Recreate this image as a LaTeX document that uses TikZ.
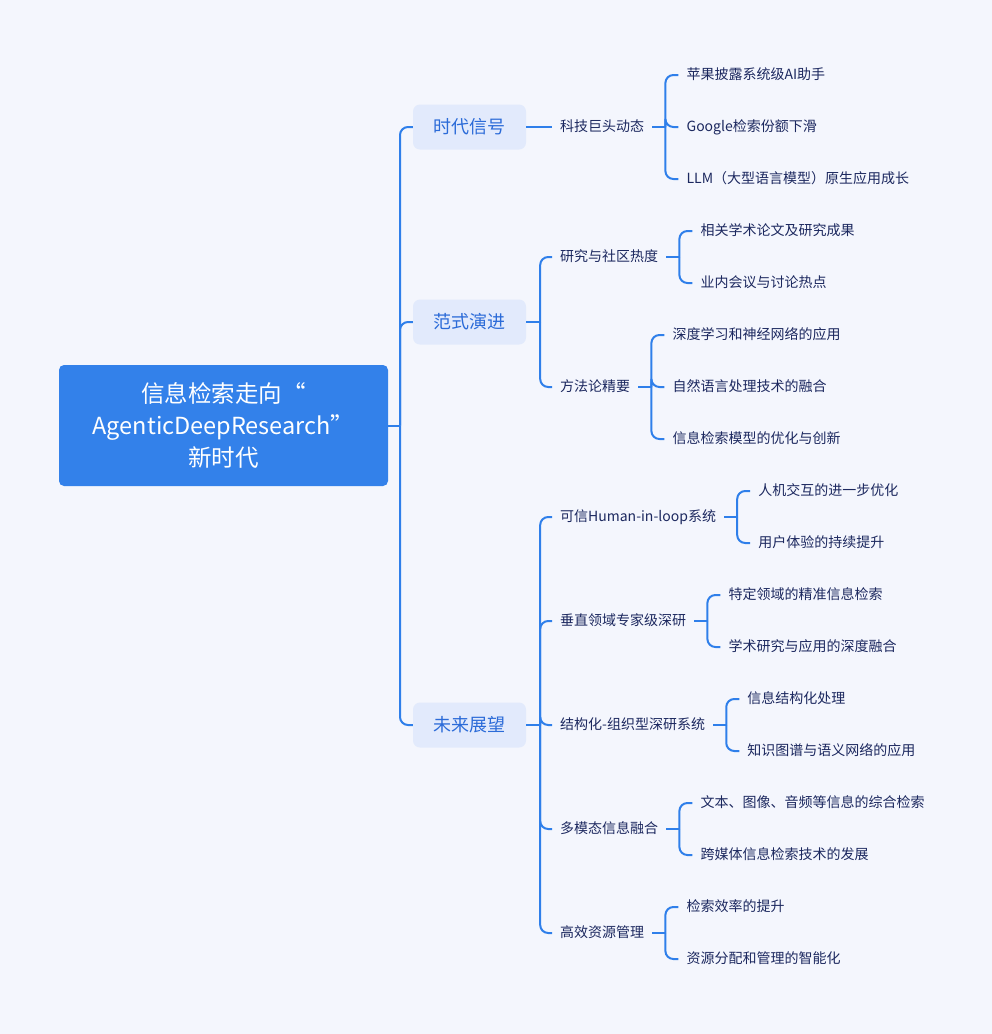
\documentclass[tikz,border=0pt]{standalone}
\usepackage{fontspec}
\newfontfamily\cjk{Noto Sans CJK SC}
\definecolor{bgc}{HTML}{F4F6FD}
\definecolor{linec}{HTML}{2F7FEA}
\definecolor{rootc}{HTML}{3381EA}
\definecolor{topicc}{HTML}{E2EAFC}
\definecolor{topictxt}{HTML}{2B6BD8}
\definecolor{darktxt}{HTML}{1C285F}
\begin{document}
\begin{tikzpicture}[x=1pt,y=-1pt,
  link/.style={draw=linec,line width=2pt,rounded corners=8pt},
  rootbox/.style={fill=rootc,rounded corners=5pt,minimum width=329pt,minimum height=121pt,text=white,align=center,font={\cjk\fontsize{23.5}{32}\selectfont}},
  topic/.style={fill=topicc,rounded corners=7pt,minimum width=113pt,minimum height=45pt,text=topictxt,font={\cjk\fontsize{18}{20}\selectfont}},
  sub/.style={anchor=west,inner xsep=8pt,inner ysep=0pt,text height=11.5pt,text depth=2.5pt,text=darktxt,font={\cjk\fontsize{14}{16}\selectfont}},
  leaf/.style={sub}]
\fill[bgc] (0,0) rectangle (992,1034);
\node[rootbox] (root) at (223.5,425.5) {信息检索走向“\\AgenticDeepResearch”\\新时代};
\node[topic] (sig) at (469.5,127) {时代信号};
\node[topic] (par) at (469.5,322) {范式演进};
\node[topic] (fut) at (469.5,725) {未来展望};
\coordinate (trunk) at (400,425.5);
\draw[link] (root.east) -- (trunk);
\foreach \t in {sig,par,fut}
  \draw[link] (trunk) |- (\t.west);
% level 2
\node[sub] (kj) at (552,127) {科技巨头动态};
\node[sub] (rs) at (552,257) {研究与社区热度};
\node[sub] (ff) at (552,387) {方法论精要};
\node[sub] (kx) at (552,517) {可信Human-in-loop系统};
\node[sub] (cz) at (552,621) {垂直领域专家级深研};
\node[sub] (jg) at (552,725) {结构化-组织型深研系统};
\node[sub] (dm) at (552,829) {多模态信息融合};
\node[sub] (gx) at (552,933) {高效资源管理};
\draw[link] (sig.east) -- (kj.west);
\draw[link] (par.east) -- ++(14,0) coordinate (bpar);
\foreach \t in {rs,ff}
  \draw[link] (bpar) |- (\t.west);
\draw[link] (fut.east) -- ++(14,0) coordinate (bfut);
\foreach \t in {kx,cz,jg,dm,gx}
  \draw[link] (bfut) |- (\t.west);
% level 3
\draw[link] (kj.east) -- ++(13,0) coordinate (bkj);
\node[leaf] (kj1) at ([shift={(13,-52)}]bkj) {苹果披露系统级AI助手};
\node[leaf] (kj2) at ([shift={(13,0)}]bkj) {Google检索份额下滑};
\node[leaf] (kj3) at ([shift={(13,52)}]bkj) {LLM（大型语言模型）原生应用成长};
\draw[link] (rs.east) -- ++(13,0) coordinate (brs);
\node[leaf] (rs1) at ([shift={(13,-26)}]brs) {相关学术论文及研究成果};
\node[leaf] (rs2) at ([shift={(13,26)}]brs) {业内会议与讨论热点};
\draw[link] (ff.east) -- ++(13,0) coordinate (bff);
\node[leaf] (ff1) at ([shift={(13,-52)}]bff) {深度学习和神经网络的应用};
\node[leaf] (ff2) at ([shift={(13,0)}]bff) {自然语言处理技术的融合};
\node[leaf] (ff3) at ([shift={(13,52)}]bff) {信息检索模型的优化与创新};
\draw[link] (kx.east) -- ++(13,0) coordinate (bkx);
\node[leaf] (kx1) at ([shift={(13,-26)}]bkx) {人机交互的进一步优化};
\node[leaf] (kx2) at ([shift={(13,26)}]bkx) {用户体验的持续提升};
\draw[link] (cz.east) -- ++(13,0) coordinate (bcz);
\node[leaf] (cz1) at ([shift={(13,-26)}]bcz) {特定领域的精准信息检索};
\node[leaf] (cz2) at ([shift={(13,26)}]bcz) {学术研究与应用的深度融合};
\draw[link] (jg.east) -- ++(13,0) coordinate (bjg);
\node[leaf] (jg1) at ([shift={(13,-26)}]bjg) {信息结构化处理};
\node[leaf] (jg2) at ([shift={(13,26)}]bjg) {知识图谱与语义网络的应用};
\draw[link] (dm.east) -- ++(13,0) coordinate (bdm);
\node[leaf] (dm1) at ([shift={(13,-26)}]bdm) {文本、图像、音频等信息的综合检索};
\node[leaf] (dm2) at ([shift={(13,26)}]bdm) {跨媒体信息检索技术的发展};
\draw[link] (gx.east) -- ++(13,0) coordinate (bgx);
\node[leaf] (gx1) at ([shift={(13,-26)}]bgx) {检索效率的提升};
\node[leaf] (gx2) at ([shift={(13,26)}]bgx) {资源分配和管理的智能化};
\foreach \p/\c in {kj/kj1,kj/kj2,kj/kj3,rs/rs1,rs/rs2,ff/ff1,ff/ff2,ff/ff3,kx/kx1,kx/kx2,cz/cz1,cz/cz2,jg/jg1,jg/jg2,dm/dm1,dm/dm2,gx/gx1,gx/gx2}
  \draw[link] (b\p) |- (\c.west);
\end{tikzpicture}
\end{document}
